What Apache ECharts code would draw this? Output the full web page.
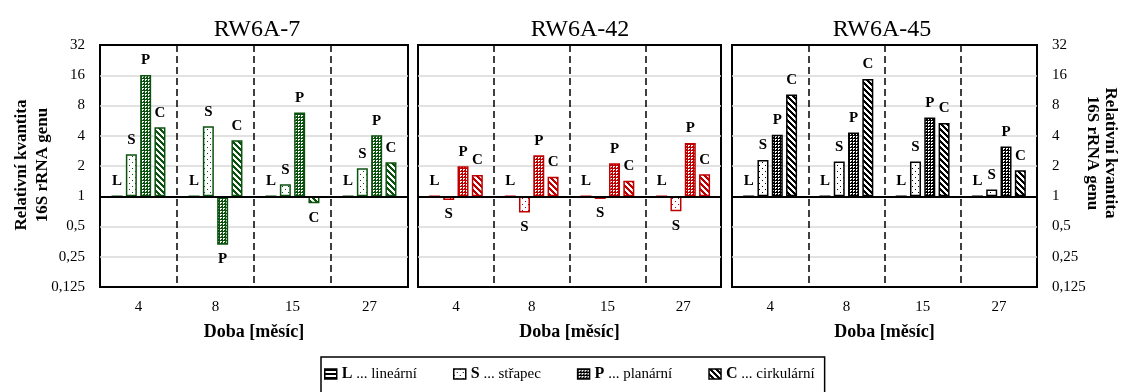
<!DOCTYPE html>
<html><head><meta charset="utf-8">
<script src="https://cdn.jsdelivr.net/npm/echarts@6/dist/echarts.min.js"></script>
<style>html,body{margin:0;padding:0;background:#fff}#c{width:1125px;height:392px}</style>
</head><body><div id="c"></div>
<script>
// ---- data ----
const categories = ['4', '8', '15', '27'];
const panelTitles = ['RW6A-7', 'RW6A-42', 'RW6A-45'];
const yTickLabels = ['0,125', '0,25', '0,5', '1', '2', '4', '8', '16', '32'];
const seriesNames = ['L', 'S', 'P', 'C'];
const legendTexts = ['lineární', 'střapec', 'planární', 'cirkulární'];
const yAxisTitle = ['Relativní kvantita', '16S rRNA genu'];
const xAxisTitle = 'Doba [měsíc]';
// relative quantity (fold change vs 1)
const rw7_L = [1, 1, 1, 1];
const rw7_S = [2.62, 4.97, 1.32, 1.90];
const rw7_P = [16.1, 0.33, 6.8, 4.05];
const rw7_C = [4.86, 3.6, 0.85, 2.18];
const rw42_L = [1, 1, 1, 1];
const rw42_S = [0.92, 0.69, 0.94, 0.71];
const rw42_P = [1.99, 2.56, 2.13, 3.39];
const rw42_C = [1.63, 1.56, 1.43, 1.66];
const rw45_L = [1, 1, 1, 1];
const rw45_S = [2.3, 2.22, 2.22, 1.17];
const rw45_P = [4.1, 4.3, 6.07, 3.12];
const rw45_C = [10.3, 14.7, 5.36, 1.81];

const panelData = [
  [rw7_L, rw7_S, rw7_P, rw7_C],
  [rw42_L, rw42_S, rw42_P, rw42_C],
  [rw45_L, rw45_S, rw45_P, rw45_C]
];
const panelColors = ['#0b520f', '#c00000', '#000000'];
const grids = [
  {left: 100, width: 308},
  {left: 418, width: 303},
  {left: 732, width: 305}
];
const titleX = [257, 580, 882];
const SERIF = '"Liberation Serif", "Times New Roman", serif';

function makePattern(kind, color) {
  const c = document.createElement('canvas');
  let n;
  if (kind === 'L') n = 4; else if (kind === 'S') n = 6; else if (kind === 'P') n = 3; else n = 6;
  c.width = n; c.height = n;
  const ctx = c.getContext('2d');
  ctx.fillStyle = '#ffffff';
  ctx.fillRect(0, 0, n, n);
  ctx.fillStyle = color;
  if (kind === 'L') {
    ctx.fillRect(0, 0, n, 2);
  } else if (kind === 'S') {
    ctx.fillRect(0, 0, 1, 1);
    ctx.fillRect(3, 3, 1, 1);
  } else if (kind === 'P') {
    for (let x = 0; x < n; x++) for (let y = 0; y < n; y++) {
      if (x === 0 || y === 0 || (x === 2 && y === 2)) ctx.fillRect(x, y, 1, 1);
    }
  } else {
    for (let x = 0; x < n; x++) for (let y = 0; y < n; y++) {
      if ((((x - y) % n) + n) % n < 3) ctx.fillRect(x, y, 1, 1);
    }
  }
  return {image: c, repeat: 'repeat'};
}

const option = {
  animation: false,
  backgroundColor: '#fff',
  grid: grids.map(g => ({
    left: g.left, width: g.width, top: 45, height: 242,
    show: true, borderColor: '#000', borderWidth: 2, backgroundColor: 'transparent',
    containLabel: false, outerBoundsMode: 'none'
  })),
  xAxis: grids.map((g, i) => ({
    type: 'category', gridIndex: i, data: categories,
    axisLine: {show: false}, axisTick: {show: false},
    axisLabel: {color: '#000', fontFamily: SERIF, fontSize: 15, margin: 13},
    splitLine: {show: true, showMinLine: false, showMaxLine: false,
      lineStyle: {color: '#000', width: 1.5, type: [7, 4]}},
    name: xAxisTitle, nameLocation: 'middle', nameGap: 36,
    nameTextStyle: {color: '#000', fontFamily: SERIF, fontSize: 18, fontWeight: 'bold'}
  })),
  yAxis: grids.map((g, i) => ({
    type: 'value', gridIndex: i, min: -3, max: 5, interval: 1,
    position: i === 2 ? 'right' : 'left',
    axisLine: {show: false}, axisTick: {show: false},
    axisLabel: {show: i !== 1, color: '#000', fontFamily: SERIF, fontSize: 15, margin: 15,
      formatter: v => yTickLabels[Math.round(v) + 3]},
    splitLine: {show: true, showMinLine: false, showMaxLine: false,
      lineStyle: {color: '#d9d9d9', width: 1.5}}
  })),
  legend: {
    show: true, left: 321, top: 357, orient: 'horizontal',
    icon: 'rect', itemWidth: 12, itemHeight: 10, itemGap: 36,
    borderColor: '#000', borderWidth: 1.5, padding: [9, 10, 30, 3],
    selectedMode: false,
    data: seriesNames.map(s => ({
      name: s,
      itemStyle: {color: makePattern(s, '#000'), borderColor: '#000', borderWidth: 1.5}
    })),
    formatter: name => '{b|' + name + '} ... ' + legendTexts[seriesNames.indexOf(name)],
    textStyle: {color: '#000', fontFamily: SERIF, fontSize: 15,
      rich: {b: {fontFamily: SERIF, fontSize: 16, fontWeight: 'bold', color: '#000'}}}
  },
  graphic: [
    ...panelTitles.map((t, i) => ({
      type: 'text', x: titleX[i], y: 30,
      style: {text: t, font: '24px ' + SERIF, fill: '#000', textAlign: 'center', textVerticalAlign: 'middle'}
    })),
    {type: 'text', x: 22, y: 165, rotation: Math.PI / 2,
      style: {text: yAxisTitle[0], font: 'bold 17px ' + SERIF, fill: '#000', textAlign: 'center', textVerticalAlign: 'middle'}},
    {type: 'text', x: 43, y: 165, rotation: Math.PI / 2,
      style: {text: yAxisTitle[1], font: 'bold 17px ' + SERIF, fill: '#000', textAlign: 'center', textVerticalAlign: 'middle'}},
    {type: 'text', x: 1110, y: 153, rotation: -Math.PI / 2,
      style: {text: yAxisTitle[0], font: 'bold 17px ' + SERIF, fill: '#000', textAlign: 'center', textVerticalAlign: 'middle'}},
    {type: 'text', x: 1092, y: 153, rotation: -Math.PI / 2,
      style: {text: yAxisTitle[1], font: 'bold 17px ' + SERIF, fill: '#000', textAlign: 'center', textVerticalAlign: 'middle'}}
  ],
  series: []
};

panelData.forEach((arrs, p) => {
  const col = panelColors[p];
  arrs.forEach((vals, k) => {
    const s = {
      type: 'bar', name: seriesNames[k], xAxisIndex: p, yAxisIndex: p,
      barWidth: 11, barGap: '30%',
      itemStyle: {color: makePattern(seriesNames[k], col), borderColor: col, borderWidth: 1.5},
      label: {show: true, formatter: '{a}', color: '#000', fontFamily: SERIF, fontSize: 15, fontWeight: 'bold', distance: 7},
      data: vals.map(v => {
        const lv = Math.log2(v);
        return {value: lv, label: {position: lv < -0.001 ? 'bottom' : 'top'}};
      })
    };
    if (k === 0) {
      s.markLine = {
        silent: true, symbol: ['none', 'none'], label: {show: false},
        lineStyle: {color: '#000', width: 2, type: 'solid'},
        data: [{yAxis: 0}]
      };
    }
    option.series.push(s);
  });
});

const chart = echarts.init(document.getElementById('c'));
chart.setOption(option);
</script>
</body></html>
